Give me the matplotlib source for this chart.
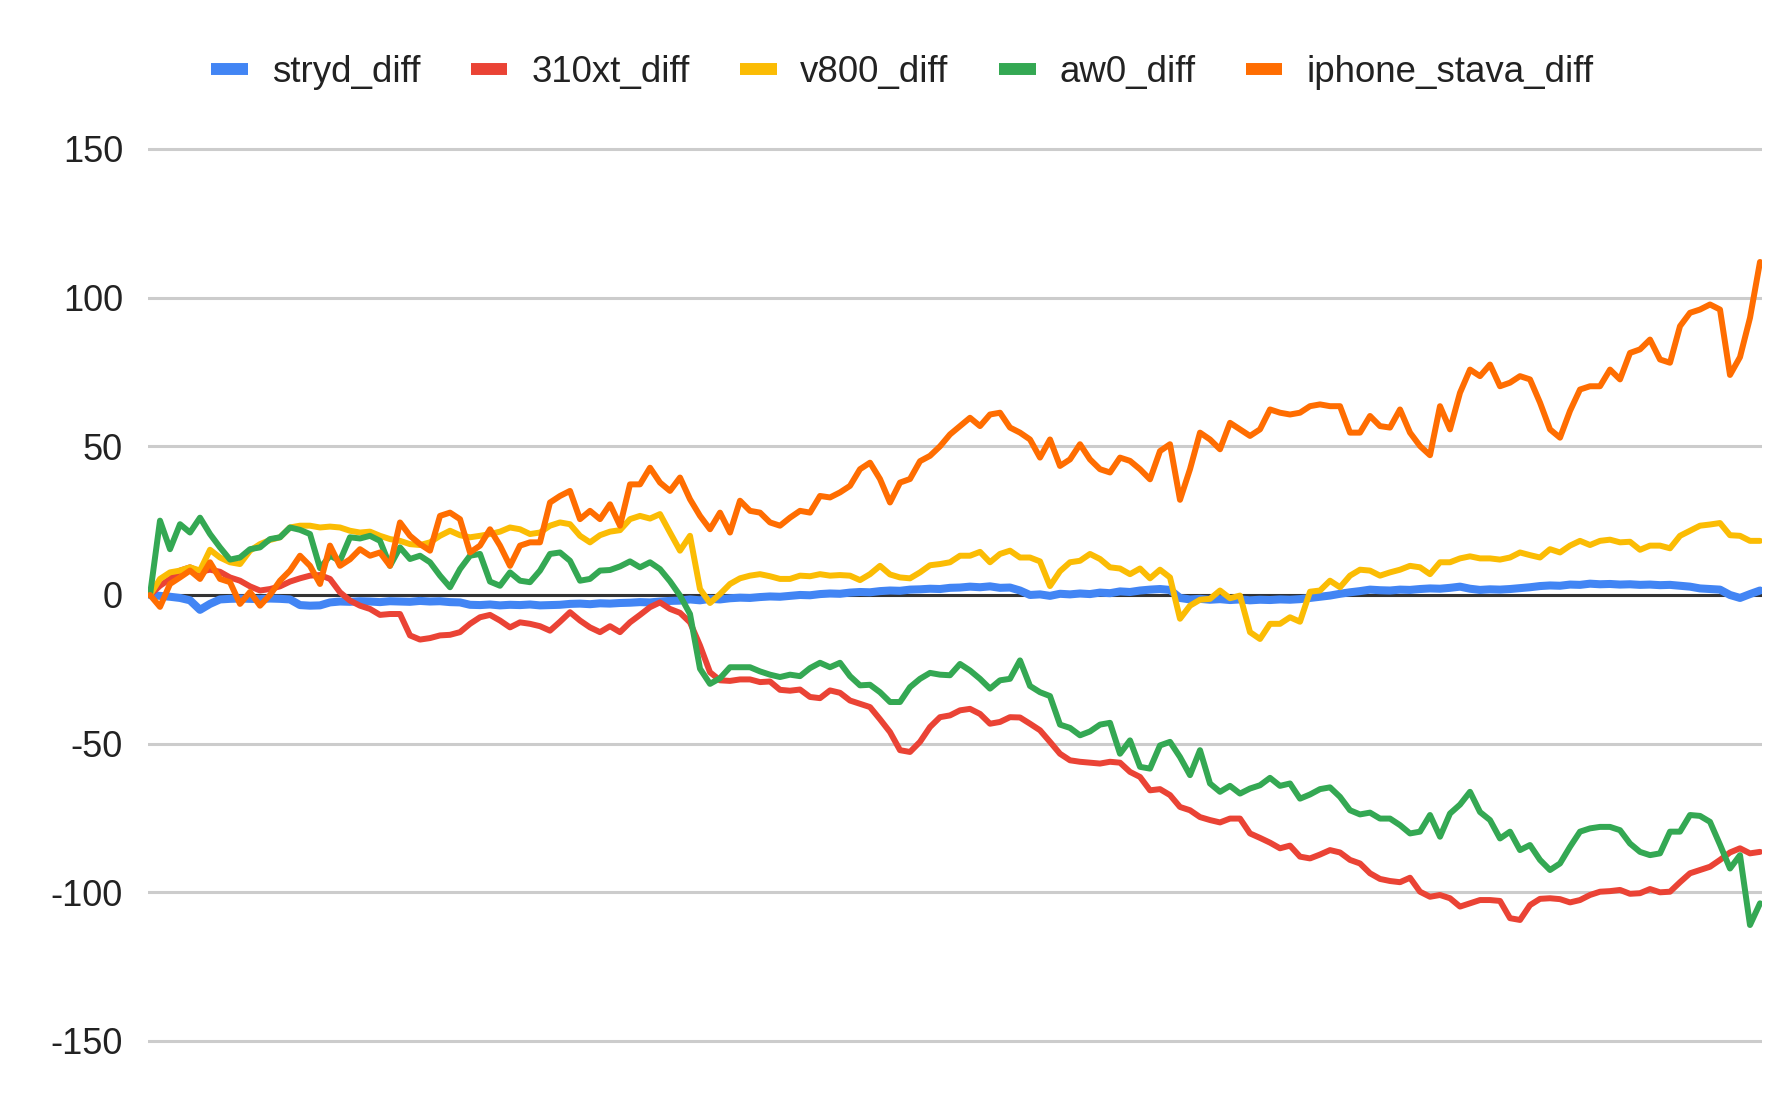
import numpy as np
import matplotlib
matplotlib.use("Agg")
from matplotlib import pyplot as plt
from matplotlib.lines import Line2D

plt.rcParams['font.family'] = ['Liberation Sans', 'DejaVu Sans']
plt.rcParams['axes.unicode_minus'] = False

# --------------------------------------------data----------------

stryd_diff = [
    0, -0.3, -0.6, -1.0, -1.8, -5.0, -3.0, -1.5, -1.3, -1.2,
    -1.3, -1.4, -1.2, -1.3, -1.5, -3.4, -3.6, -3.5, -2.5, -2.2,
    -2.3, -2.1, -2.2, -2.4, -2.1, -2.2, -2.3, -2.0, -2.2, -2.1,
    -2.4, -2.5, -3.3, -3.4, -3.2, -3.5, -3.3, -3.4, -3.2, -3.5,
    -3.4, -3.3,
    -3.0, -2.9, -3.1, -2.8, -2.9, -2.7, -2.6, -2.4, -2.5, -2.2,
    -2.0, -1.9, -1.5, -1.8, -1.3, -1.5, -1.1, -0.9, -1.0, -0.7,
    -0.5, -0.6, -0.3, 0.0, -0.1, 0.3, 0.5, 0.4, 0.8, 1.0,
    0.9, 1.3, 1.5, 1.4, 1.8, 1.9, 2.1, 2.0, 2.4, 2.5,
    2.8, 2.6, 2.9, 2.4, 2.5, 1.5, 0.0, 0.2, -0.3, 0.4,
    0.2, 0.5, 0.3, 0.8, 0.6, 1.2, 1.0, 1.5, 1.8, 2.0,
    1.7, -1.0, -1.5, -1.3, -1.6, -1.4, -1.7, -1.5, -1.8, -1.6,
    -1.7, -1.5, -1.6, -1.4, -1.0, -0.6, -0.2, 0.4, 0.9, 1.3,
    1.8,
    1.6, 1.5, 1.8, 1.7, 2.0, 2.2, 2.1, 2.4, 2.8, 2.1,
    1.7, 1.9, 1.8, 2.0, 2.3, 2.6, 3.0, 3.2, 3.1, 3.5,
    3.4, 3.8, 3.6, 3.7, 3.5, 3.6, 3.4, 3.5, 3.3, 3.4,
    3.1, 2.8, 2.2, 2.0, 1.8, 0.0, -1.0, 0.3, 1.5,
]

xt310_diff = [
    0, 3.1, 5.4, 8.2, 9.3, 7.8, 8.5, 7.8, 5.9, 4.8,
    2.9, 1.5, 2.0, 2.9, 4.5, 5.6, 6.5, 6.7, 5.4, 0.9,
    -1.9, -3.6, -4.7, -6.7, -6.4, -6.4, -13.6, -15.0, -14.5, -13.6,
    -13.4, -12.5, -9.7, -7.5, -6.7, -8.6, -10.9, -9.2, -9.7, -10.5,
    -12.0, -9.0,
    -5.8, -8.6, -10.9, -12.5, -10.5, -12.5, -9.2, -6.7, -4.1, -2.5,
    -4.7, -6.0, -9.2, -17.0, -26.0, -28.7, -28.9, -28.4, -28.4, -29.3,
    -29.1, -31.9, -32.2, -31.8, -34.3, -34.7, -32.1, -32.9, -35.5, -36.6,
    -37.7, -41.8, -46.1, -52.2, -52.8, -49.4, -44.4, -41.1, -40.5, -38.8,
    -38.3, -40.0, -43.3, -42.7, -41.1, -41.2, -43.3, -45.5, -49.4, -53.4,
    -55.6, -56.1, -56.4, -56.7, -56.1, -56.4, -59.5, -61.2, -65.7, -65.3,
    -67.3, -71.3, -72.4, -74.7, -75.7, -76.5, -75.2, -75.2, -80.2, -81.7,
    -83.3, -85.2, -84.3, -88.0, -88.6, -87.3, -85.8, -86.6, -89.1, -90.3,
    -93.6,
    -95.5, -96.2, -96.6, -95.1, -99.8, -101.5, -100.9, -102.0, -104.8, -103.7,
    -102.6, -102.6, -102.9, -108.7, -109.3, -104.3, -102.2, -102.0, -102.3, -103.4,
    -102.6, -100.9, -99.8, -99.6, -99.2, -100.5, -100.3, -98.9, -100.0, -99.8,
    -96.6, -93.6, -92.5, -91.4, -89.1, -86.6, -85.2, -86.9, -86.4,
]

v800_diff = [
    0, 5.4, 7.6, 8.2, 9.3, 8.2, 15.2, 12.6, 11.0, 10.4,
    14.9, 17.1, 18.5, 19.4, 22.7, 23.3, 23.3, 22.7, 23.0, 22.7,
    21.6, 21.0, 21.3, 19.9, 18.8, 18.2, 17.1, 16.8, 17.7, 19.9,
    21.6, 20.1, 19.4, 19.9, 20.5, 21.3, 22.7, 22.1, 20.5, 21.0,
    23.3, 24.4,
    23.8, 19.9, 17.7, 20.1, 21.3, 21.8, 25.5, 26.6, 25.7, 27.2,
    21.0, 14.9, 19.9, 2.0, -2.7, 0.3, 3.7, 5.6, 6.5, 7.0,
    6.3, 5.4, 5.4, 6.5, 6.3, 7.0, 6.5, 6.7, 6.5, 5.0,
    7.0, 9.8, 6.9, 5.9, 5.6, 7.6, 10.0, 10.4, 11.0, 13.2,
    13.2, 14.5, 11.0, 13.8, 14.9, 12.6, 12.6, 11.3, 3.0, 8.0,
    11.0, 11.5, 13.8, 12.1, 9.3, 8.9, 7.0, 8.9, 5.6, 8.5,
    5.9, -8.0, -3.6, -1.6, -1.3, 1.5, -1.1, -0.2, -12.5, -14.8,
    -9.7, -9.7, -7.5, -9.0, 1.1, 1.5, 4.8, 2.6, 6.5, 8.5,
    8.2,
    6.5, 7.6, 8.5, 9.8, 9.3, 7.0, 11.0, 11.0, 12.3, 13.0,
    12.3, 12.3, 11.9, 12.6, 14.3, 13.4, 12.6, 15.4, 14.3, 16.6,
    18.2, 16.8, 18.2, 18.6, 17.7, 17.9, 15.2, 16.6, 16.6, 15.7,
    19.9, 21.6, 23.3, 23.7, 24.2, 20.1, 19.9, 18.2, 18.2,
]

aw0_diff = [
    0, 25.0, 15.4, 23.8, 21.0, 26.0, 20.5, 16.0, 11.9, 12.6,
    15.4, 16.0, 18.8, 19.4, 22.7, 21.9, 20.5, 9.0, 13.2, 11.5,
    19.4, 19.0, 19.9, 18.2, 9.8, 16.0, 12.1, 13.2, 11.0, 6.5,
    2.6, 8.7, 13.2, 13.8, 4.5, 3.1, 7.6, 4.8, 4.3, 8.2,
    13.8, 14.3,
    11.5, 4.8, 5.4, 8.2, 8.4, 9.6, 11.3, 9.3, 11.0, 8.7,
    4.6, -0.2, -6.4, -24.8, -29.9, -28.0, -24.3, -24.3, -24.3, -25.7,
    -26.8, -27.6, -26.8, -27.3, -24.6, -22.8, -24.3, -22.8, -27.3, -30.4,
    -30.2, -32.7, -36.0, -36.0, -31.0, -28.2, -26.2, -26.8, -27.0, -23.2,
    -25.4, -28.2, -31.5, -28.7, -28.2, -22.0, -30.6, -32.7, -34.0, -43.6,
    -44.7, -47.2, -45.9, -43.6, -43.0, -53.4, -48.9, -57.8, -58.4, -50.6,
    -49.4, -54.5, -60.6, -52.2, -63.4, -66.2, -64.2, -66.8, -65.1, -64.0,
    -61.5, -64.2, -63.4, -68.5, -67.1, -65.3, -64.7, -67.9, -72.4, -73.8,
    -73.2,
    -75.2, -75.2, -77.4, -80.2, -79.6, -74.0, -81.3, -73.5, -70.5, -66.2,
    -73.0, -75.7, -81.9, -79.6, -85.8, -84.1, -89.1, -92.5, -90.3, -84.7,
    -79.6, -78.5, -78.0, -78.0, -79.1, -83.6, -86.4, -87.5, -86.9, -79.6,
    -79.6, -74.0, -74.3, -76.3, -84.0, -92.0, -87.5, -111.0, -103.7,
]

iphone_stava_diff = [
    0, -4.0, 3.7, 5.9, 8.2, 5.4, 11.0, 5.4, 4.3, -3.0,
    1.0, -3.6, 0.0, 4.8, 8.2, 13.2, 9.8, 3.7, 16.6, 9.8,
    12.0, 15.4, 13.2, 14.3, 9.8, 24.4, 19.9, 17.1, 14.9, 26.6,
    27.7, 25.5, 14.3, 16.6, 22.1, 16.6, 9.8, 16.6, 17.7, 17.7,
    31.1, 33.3,
    35.0, 25.5, 28.3, 25.5, 30.5, 23.3, 37.2, 37.2, 42.8, 37.8,
    35.0, 39.5, 32.2, 26.6, 22.1, 27.7, 21.0, 31.7, 28.3, 27.7,
    24.4, 23.3, 26.0, 28.3, 27.7, 33.3, 32.8, 34.5, 36.7, 42.3,
    44.5, 39.0, 31.1, 37.8, 39.0, 45.0, 46.8, 50.0, 54.0, 56.8,
    59.6, 56.8, 60.7, 61.3, 56.3, 54.6, 52.3, 46.2, 52.3, 43.4,
    45.6, 50.7, 45.6, 42.3, 41.2, 46.2, 45.1, 42.3, 38.9, 48.4,
    50.7, 32.0, 42.3, 54.6, 52.3, 49.0, 57.9, 55.7, 53.5, 55.7,
    62.4, 61.3, 60.7, 61.3, 63.5, 64.1, 63.5, 63.5, 54.6, 54.6,
    60.2,
    56.8, 56.3, 62.4, 54.6, 50.1, 47.0, 63.5, 55.7, 68.0, 75.8,
    73.6, 77.5, 70.2, 71.4, 73.6, 72.5, 64.7, 55.7, 52.9, 61.9,
    69.1, 70.2, 70.2, 75.8, 72.5, 81.4, 82.6, 85.9, 79.2, 78.1,
    90.4, 94.9, 96.0, 97.7, 96.0, 74.0, 80.0, 93.2, 112.0,
]

series_names = ["stryd_diff", "310xt_diff", "v800_diff", "aw0_diff", "iphone_stava_diff"]
series_values = [stryd_diff, xt310_diff, v800_diff, aw0_diff, iphone_stava_diff]
series_colors = ["#4285F4", "#EA4335", "#FBBC04", "#34A853", "#FF6D01"]

y_ticks = [-150, -100, -50, 0, 50, 100, 150]

# --------------------------------------------plot----------------

fig = plt.figure(figsize=(17.8, 11.12), dpi=100)
ax = fig.add_axes([148 / 1780, 0.0505, 1614 / 1780, 0.8289])

n = len(stryd_diff)
x = np.arange(n)

ax.axhline(0, color="#333333", lw=2.2, zorder=1.5)

for name, vals, col in zip(series_names, series_values, series_colors):
    lw = 5.8 if name == "stryd_diff" else 4.3
    ax.plot(x, vals, color=col, lw=lw, solid_joinstyle="round",
            solid_capstyle="round", zorder=2)

ax.set_xlim(-0.2, n - 1 + 0.2)
ax.set_ylim(-155, 155)
ax.set_yticks(y_ticks)
ax.set_yticklabels([str(t) for t in y_ticks])
ax.set_xticks([])

ax.yaxis.grid(True, color="#cccccc", lw=2.2)
ax.set_axisbelow(True)
for s in ax.spines.values():
    s.set_visible(False)
ax.tick_params(axis="y", length=0, pad=18, labelsize=26, labelcolor="#222222")

handles = [Line2D([0], [0], color=c, lw=8.6, solid_capstyle="butt") for c in series_colors]
fig.legend(handles, series_names, loc="center", bbox_to_anchor=(0.507, 0.935),
           ncol=5, frameon=False, fontsize=26.4, handlelength=1.0,
           handletextpad=0.65, columnspacing=1.37, labelcolor="#222222")

plt.savefig("out.png", dpi=100)
